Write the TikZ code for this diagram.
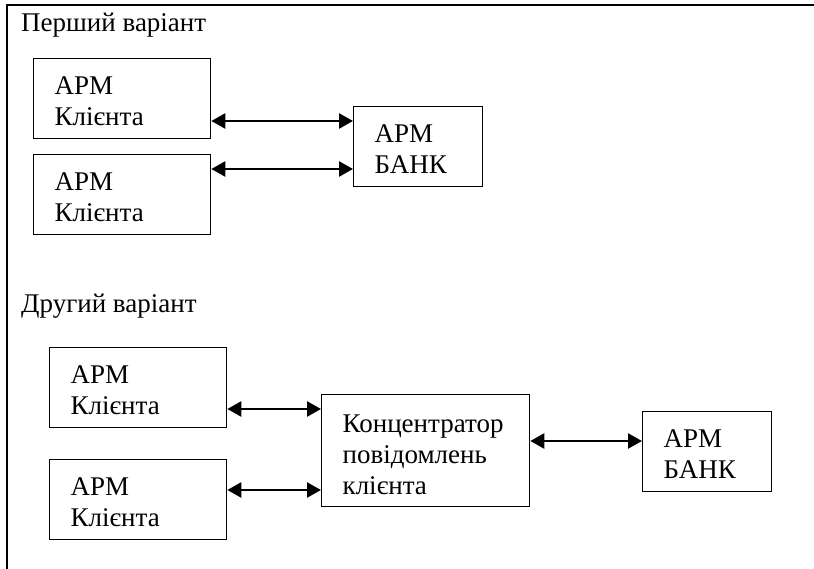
\documentclass[tikz,border=0pt]{standalone}
\usepackage{fontspec}
\setmainfont{Liberation Serif}
\usetikzlibrary{arrows.meta}

\tikzset{
  box/.style={draw,line width=1.3pt,anchor=north west,align=left,
    inner xsep=21pt,inner ysep=0pt,text height=36pt,text depth=44pt,
    font=\fontsize{27}{31}\selectfont},
  link/.style={line width=2.4pt,{Triangle[length=14pt,width=15pt]}-{Triangle[length=14pt,width=15pt]}},
  caption/.style={anchor=base west,inner sep=0pt,font=\fontsize{27}{31}\selectfont}
}

\begin{document}
\begin{tikzpicture}[x=1pt,y=-1pt]
\useasboundingbox (0,0) rectangle (814,569);

\draw[line width=2pt] (7,569) -- (7,5) -- (814,5);

\node[caption] (first) at (21,32) {Перший варіант};

\node[box,text width=135pt] (c1) at (33,58) {АРМ\\Клієнта};
\node[box,text width=135pt] (c2) at (33,154) {АРМ\\Клієнта};
\node[box,text width=87pt] (b1) at (353,106) {АРМ\\БАНК};

\draw[link] (c1.east |- 0,121) -- (b1.west |- 0,121);
\draw[link] (c2.east |- 0,169) -- (b1.west |- 0,169);

\node[caption] (second) at (21,313) {Другий варіант};

\node[box,text width=135pt] (d1) at (49,347) {АРМ\\Клієнта};
\node[box,text width=135pt] (d2) at (49,459) {АРМ\\Клієнта};
\node[box,text width=166pt,text height=38pt,text depth=74pt] (hub) at (321,394)
  {Концентратор\\повідомлень\\клієнта};
\node[box,text width=87pt] (b2) at (642,411) {АРМ\\БАНК};

\draw[link] (d1.east |- 0,409) -- (hub.west |- 0,409);
\draw[link] (d2.east |- 0,490) -- (hub.west |- 0,490);
\draw[link] (hub.east |- 0,441) -- (b2.west |- 0,441);

\end{tikzpicture}
\end{document}
